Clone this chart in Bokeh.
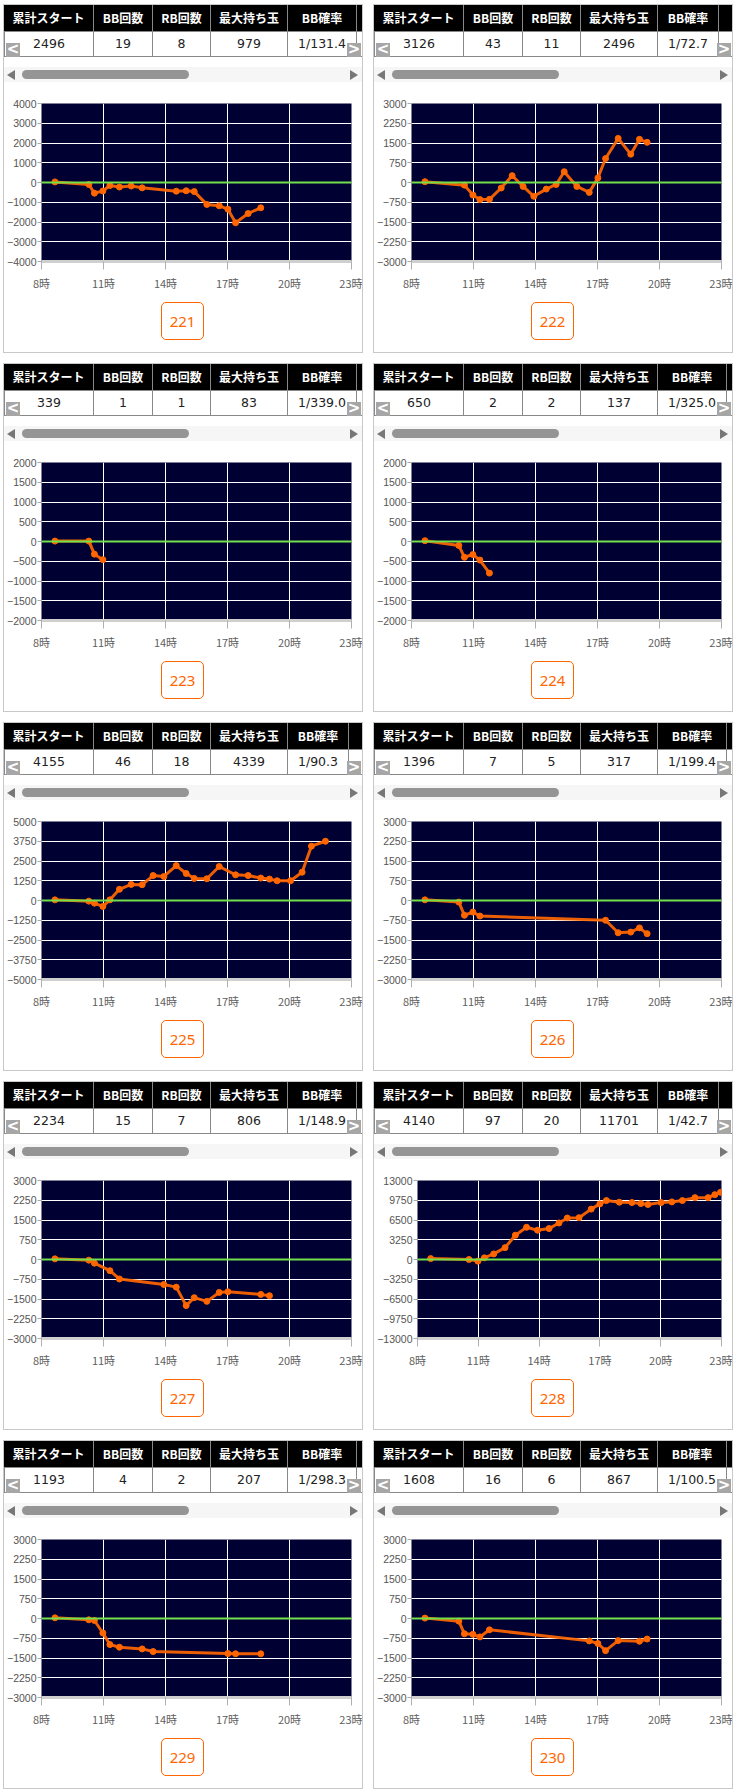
from bokeh.plotting import figure
from bokeh.layouts import column, row
from bokeh.models import Range1d, FixedTicker, Span, Div
from bokeh.embed import file_html
from bokeh.resources import INLINE

# ---------------- data ----------------
machines = ["221", "222", "223", "224", "225", "226", "227", "228", "229", "230"]
headers = ["累計スタート", "BB回数", "RB回数", "最大持ち玉", "BB確率", ""]
total_start = ["2496", "3126", "339", "650", "4155", "1396", "2234", "4140", "1193", "1608"]
bb_count = ["19", "43", "1", "2", "46", "7", "15", "97", "4", "16"]
rb_count = ["8", "11", "1", "2", "18", "5", "7", "20", "2", "6"]
max_balls = ["979", "2496", "83", "137", "4339", "317", "806", "11701", "207", "867"]
bb_rate = ["1/131.4", "1/72.7", "1/339.0", "1/325.0", "1/90.3", "1/199.4", "1/148.9", "1/42.7", "1/298.3", "1/100.5"]

x_ticks = [8, 11, 14, 17, 20, 23]
x_tick_labels = ["8時", "11時", "14時", "17時", "20時", "23時"]

yticks_221 = [-4000, -3000, -2000, -1000, 0, 1000, 2000, 3000, 4000]
yticks_3000 = [-3000, -2250, -1500, -750, 0, 750, 1500, 2250, 3000]
yticks_2000 = [-2000, -1500, -1000, -500, 0, 500, 1000, 1500, 2000]
yticks_225 = [-5000, -3750, -2500, -1250, 0, 1250, 2500, 3750, 5000]
yticks_228 = [-13000, -9750, -6500, -3250, 0, 3250, 6500, 9750, 13000]

t221 = [8.65, 10.29, 10.56, 10.97, 11.31, 11.77, 12.34, 12.87, 14.52, 15.00, 15.39, 16.00, 16.60, 17.02, 17.39, 18.00, 18.61]
v221 = [30, -100, -540, -430, -150, -230, -180, -270, -440, -420, -460, -1110, -1180, -1350, -2040, -1570, -1280]

t222 = [8.65, 10.56, 10.97, 11.31, 11.77, 12.34, 12.87, 13.40, 13.92, 14.52, 15.00, 15.39, 16.00, 16.60, 17.02, 17.39, 18.00, 18.61, 19.03, 19.40]
v222 = [30, -100, -475, -650, -640, -210, 260, -150, -525, -250, -75, 410, -150, -375, 175, 910, 1675, 1075, 1640, 1525]

t223 = [8.65, 10.29, 10.56, 10.97]
v223 = [10, 10, -320, -460]

t224 = [8.65, 10.29, 10.56, 10.97, 11.31, 11.77]
v224 = [20, -100, -400, -330, -470, -800]

t225 = [8.65, 10.29, 10.56, 10.97, 11.31, 11.77, 12.34, 12.87, 13.40, 13.92, 14.52, 15.00, 15.39, 16.00, 16.60, 17.39, 18.00, 18.61, 19.03, 19.40, 20.05, 20.61, 21.06, 21.74]
v225 = [40, -40, -170, -375, 40, 710, 1020, 1000, 1580, 1520, 2210, 1710, 1400, 1375, 2150, 1625, 1580, 1420, 1355, 1250, 1250, 1790, 3440, 3750]

t226 = [8.65, 10.29, 10.56, 10.97, 11.31, 17.39, 18.00, 18.61, 19.03, 19.40]
v226 = [25, -60, -560, -440, -590, -750, -1225, -1200, -1040, -1260]

t227 = [8.65, 10.29, 10.56, 11.31, 11.77, 13.92, 14.52, 15.00, 15.39, 16.00, 16.60, 17.02, 18.61, 19.03]
v227 = [25, -25, -140, -425, -740, -950, -1050, -1750, -1450, -1590, -1250, -1225, -1325, -1375]

t228 = [8.65, 10.54, 10.98, 11.30, 11.76, 12.32, 12.83, 13.38, 13.92, 14.49, 14.98, 15.39, 15.97, 16.57, 17.00, 17.32, 17.96, 18.58, 19.02, 19.37, 20.02, 20.55, 21.07, 21.69, 22.34, 22.67, 22.95]
v228 = [150, 0, -270, 270, 920, 1950, 4000, 5300, 4820, 5090, 6010, 6830, 6880, 8290, 9150, 9700, 9430, 9370, 9210, 9050, 9370, 9480, 9700, 10180, 10180, 10670, 11050]

t229 = [8.65, 10.29, 10.56, 10.97, 11.31, 11.77, 12.87, 13.40, 17.02, 17.39, 18.61]
v229 = [25, -50, -75, -550, -990, -1090, -1155, -1255, -1330, -1340, -1340]

t230 = [8.65, 10.29, 10.56, 10.97, 11.31, 11.77, 16.60, 17.02, 17.39, 18.00, 19.03, 19.40]
v230 = [15, -100, -580, -600, -700, -430, -850, -950, -1220, -840, -865, -780]

series_t = [t221, t222, t223, t224, t225, t226, t227, t228, t229, t230]
series_v = [v221, v222, v223, v224, v225, v226, v227, v228, v229, v230]
series_ticks = [yticks_221, yticks_3000, yticks_2000, yticks_2000, yticks_225,
                yticks_3000, yticks_3000, yticks_228, yticks_3000, yticks_3000]

# ---------------- style ----------------
INNER_W = 358
NAVY = "#000033"
ORANGE = "#ff6600"
GREEN = "#72e04a"
CJK = "'Noto Sans CJK JP'"


def top_div(i):
    rate = bb_rate[i]
    if len(rate) >= 7:
        edges = [0, 90, 149, 207, 284, 353, 422]
    else:
        edges = [0, 90, 149, 207, 284, 345, 414]
    vals = [total_start[i], bb_count[i], rb_count[i], max_balls[i], bb_rate[i], ""]
    parts = []
    for k in range(6):
        left = edges[k]
        w = edges[k + 1] - edges[k]
        bl = "border-left:1px solid #888;" if k == 0 else ""
        parts.append(
            f'<div style="position:absolute;left:{left}px;top:0;width:{w}px;height:26px;'
            f'background:#000;color:#fff;font-family:{CJK};font-weight:bold;font-size:12px;'
            f'line-height:26px;text-align:center;box-sizing:border-box;border-right:1px solid #888;'
            f'white-space:nowrap;overflow:hidden">{headers[k]}</div>')
        parts.append(
            f'<div style="position:absolute;left:{left}px;top:26px;width:{w}px;height:26px;'
            f'background:#fff;color:#222;font-family:\'DejaVu Sans\';font-size:12.5px;'
            f'line-height:24px;text-align:center;box-sizing:border-box;{bl}border-right:1px solid #888;'
            f'border-top:1px solid #888;border-bottom:1px solid #888;white-space:nowrap;overflow:hidden">{vals[k]}</div>')
    # scroll buttons
    for left, ch in ((2, "&lt;"), (343, "&gt;")):
        parts.append(
            f'<div style="position:absolute;left:{left}px;top:38px;width:14px;height:14px;background:#a6a6a6;'
            f'color:#fff;font-family:\'DejaVu Sans\';font-weight:bold;font-size:15px;line-height:13px;'
            f'text-align:center">{ch}</div>')
    # scrollbar
    parts.append('<div style="position:absolute;left:0;top:62px;width:358px;height:15px;background:#f6f6f6"></div>')
    parts.append('<div style="position:absolute;left:18px;top:65px;width:167px;height:9px;background:#959595;border-radius:5px"></div>')
    parts.append('<div style="position:absolute;left:3px;top:65px;width:0;height:0;border-top:5px solid transparent;'
                 'border-bottom:5px solid transparent;border-right:8px solid #777"></div>')
    parts.append('<div style="position:absolute;left:346px;top:65px;width:0;height:0;border-top:5px solid transparent;'
                 'border-bottom:5px solid transparent;border-left:8px solid #777"></div>')
    html = ('<div style="position:relative;width:358px;height:84px;overflow:hidden;background:#fff">'
            + "".join(parts) + '</div>')
    return Div(text=html, width=INNER_W, height=84, margin=0)


def bottom_div(i):
    html = ('<div style="position:relative;width:358px;height:55px;background:#fff">'
            f'<div style="position:absolute;left:157px;top:5px;width:43px;height:38px;box-sizing:border-box;'
            f'border:1px solid {ORANGE};border-radius:5px;color:{ORANGE};font-family:\'Noto Sans\';'
            f'font-size:15px;line-height:36px;text-align:center">{machines[i]}</div></div>')
    return Div(text=html, width=INNER_W, height=55, margin=0)


def chart(i):
    ticks = series_ticks[i]
    wide = max(abs(t) for t in ticks) >= 10000
    left = 42 if wide else 37          # frame start inside the panel
    p = figure(width=INNER_W, height=208,
               min_border_left=left, min_border_right=11,
               min_border_top=14, min_border_bottom=36,
               x_range=Range1d(8, 23), y_range=Range1d(ticks[0], ticks[-1]),
               output_backend="svg", toolbar_location=None, margin=0)
    p.background_fill_color = NAVY
    p.border_fill_color = "#ffffff"
    p.outline_line_color = None

    for ax in (p.xaxis[0], p.yaxis[0]):
        ax.axis_label = None
        ax.axis_label_standoff = 0
        ax.axis_label_text_font_size = "0px"
        ax.minor_tick_line_color = None
        ax.minor_tick_out = 0
        ax.major_tick_in = 0

    p.xaxis.ticker = FixedTicker(ticks=x_ticks)
    p.xaxis.major_label_overrides = {t: l for t, l in zip(x_ticks, x_tick_labels)}
    p.xaxis.axis_line_color = "#cfcfcf"
    p.xaxis.axis_line_width = 3
    p.xaxis.major_tick_line_color = "#b0b0b0"
    p.xaxis.major_tick_out = 8
    p.xaxis.major_label_standoff = 5
    p.xaxis.major_label_text_font = "Noto Sans CJK JP"
    p.xaxis.major_label_text_font_size = "11px"
    p.xaxis.major_label_text_color = "#606060"

    p.yaxis.ticker = FixedTicker(ticks=ticks)
    p.yaxis.axis_line_color = None
    p.yaxis.major_tick_line_color = "#aaaaaa"
    p.yaxis.major_tick_out = 4
    p.yaxis.major_label_standoff = 1
    p.yaxis.major_label_text_font = "Liberation Sans"
    p.yaxis.major_label_text_font_size = "10.5px"
    p.yaxis.major_label_text_color = "#555555"

    p.xgrid.ticker = FixedTicker(ticks=x_ticks)
    p.ygrid.ticker = FixedTicker(ticks=ticks)
    p.xgrid.grid_line_color = "#ffffff"
    p.ygrid.grid_line_color = "#ffffff"
    p.xgrid.grid_line_width = 1
    p.ygrid.grid_line_width = 1

    p.add_layout(Span(location=0, dimension="width", line_color=GREEN, line_width=2))
    p.line(series_t[i], series_v[i], line_color=ORANGE, line_width=3, line_alpha=0.92)
    p.scatter(series_t[i], series_v[i], size=6, fill_color=ORANGE, line_color=ORANGE)
    return p


def panel(i):
    return column(top_div(i), chart(i), bottom_div(i), spacing=0,
                  styles={"outline": "1px solid #c8c8c8", "background": "#ffffff"})


rows = []
for r in range(5):
    rows.append(row(panel(2 * r), panel(2 * r + 1), spacing=12))

root = column(*rows, spacing=12,
              styles={"position": "absolute", "left": "4px", "top": "5px"})

open("out.html", "w").write(file_html(root, INLINE))
